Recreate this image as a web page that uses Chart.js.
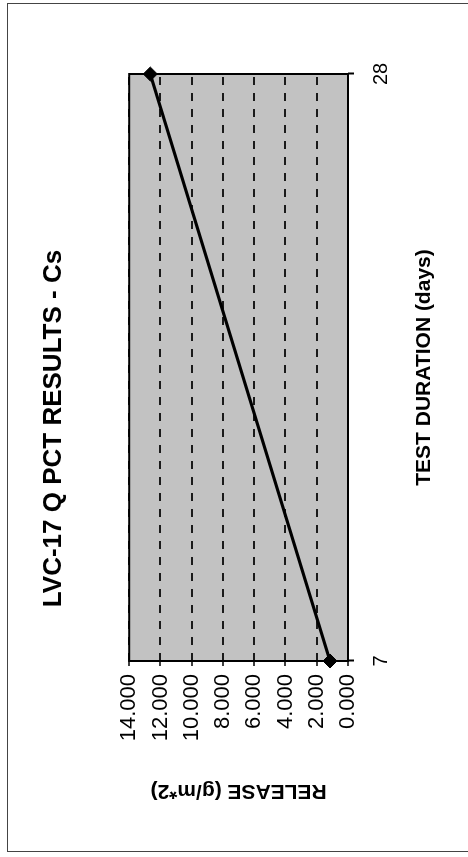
<!DOCTYPE html>
<html>
<head>
<meta charset="utf-8">
<script src="https://cdn.jsdelivr.net/npm/chart.js@4"></script>
<style>
  html, body { margin: 0; padding: 0; background: #fff; overflow: hidden; }
  body { width: 468px; height: 857px; position: relative; }
  /* outer frame of the figure */
  #frame {
    position: absolute; left: 7px; top: 3px; width: 520px; height: 849px;
    border: 1px solid #444; box-sizing: border-box;
  }
  /* the chart is laid out landscape and turned a quarter turn counter-clockwise */
  #turn {
    position: absolute; left: 0; top: 0; width: 857px; height: 468px;
    transform-origin: 0 0; transform: translate(0, 857px) rotate(-90deg);
  }
</style>
</head>
<body>
<div id="frame"></div>
<div id="turn"><canvas id="c" width="857" height="468"></canvas></div>
<script>
// Test durations (days) and measured Cs release (g/m^2)
const durations = ['7', '28'];
const csRelease = [1.15, 12.65];
const releaseTicks = [0, 2, 4, 6, 8, 10, 12, 14];

const FONT = "'Liberation Sans', Arial, Helvetica, sans-serif";
const PLOT_FILL = '#c2c2c2';

// grey plot area with a solid black frame around it
const plotFrame = {
  id: 'plotFrame',
  beforeDraw(chart) {
    const { ctx, chartArea: { left, top, width, height } } = chart;
    ctx.save();
    ctx.fillStyle = PLOT_FILL;
    ctx.fillRect(left, top, width, height);
    ctx.restore();
  },
  beforeDatasetsDraw(chart) {
    const { ctx, chartArea: { left, top, width, height } } = chart;
    ctx.save();
    ctx.strokeStyle = '#000';
    ctx.lineWidth = 2;
    ctx.strokeRect(left, top, width, height);
    ctx.restore();
  }
};

new Chart(document.getElementById('c'), {
  type: 'line',
  data: {
    labels: durations,
    datasets: [{
      data: csRelease,
      borderColor: '#000',
      borderWidth: 3,
      tension: 0,
      pointStyle: 'rectRot',
      pointRadius: 7,
      pointBackgroundColor: '#000',
      pointBorderColor: '#000',
      pointBorderWidth: 1,
      clip: false
    }]
  },
  options: {
    responsive: false,
    animation: false,
    devicePixelRatio: 1,
    layout: { padding: 0 },
    plugins: {
      legend: { display: false },
      tooltip: { enabled: false },
      title: {
        display: true,
        text: 'LVC-17 Q PCT RESULTS - Cs',
        color: '#000',
        font: { family: FONT, size: 26, weight: 'bold' },
        padding: { top: 38, bottom: 60 }
      }
    },
    scales: {
      x: {
        type: 'category',
        offset: false,
        afterFit: s => { s.height = 120; },
        grid: {
          drawOnChartArea: false,
          drawTicks: true,
          tickLength: 6,
          tickColor: '#000',
          tickWidth: 2
        },
        border: { display: false },
        ticks: {
          color: '#000',
          font: { family: FONT, size: 20 },
          padding: 15,
          autoSkip: false,
          maxRotation: 0
        },
        title: {
          display: true,
          text: 'TEST DURATION (days)',
          color: '#000',
          font: { family: FONT, size: 21, weight: 'bold' },
          padding: { top: 0, bottom: 31 }
        }
      },
      y: {
        min: 0,
        max: 14,
        afterFit: s => { s.width = 196; },
        afterBuildTicks: s => { s.ticks = releaseTicks.map(v => ({ value: v })); },
        grid: {
          color: '#1a1a1a',
          lineWidth: 2,
          tickLength: 5,
          tickColor: '#000',
          tickWidth: 1.5,
          tickBorderDash: []
        },
        border: { display: false, dash: [8, 8] },
        ticks: {
          color: '#000',
          font: { family: FONT, size: 22 },
          padding: 8,
          callback: v => Number(v).toFixed(3)
        },
        title: {
          display: true,
          text: 'RELEASE (g/m*2)',
          color: '#000',
          font: { family: FONT, size: 21, weight: 'bold' },
          padding: { top: 54, bottom: 0 }
        }
      },
      // empty margin on the far side of the plot
      yMargin: {
        position: 'right',
        display: true,
        afterFit: s => { s.width = 74; },
        grid: { display: false },
        border: { display: false },
        ticks: { display: false },
        title: { display: false }
      }
    }
  },
  plugins: [plotFrame]
});
</script>
</body>
</html>
